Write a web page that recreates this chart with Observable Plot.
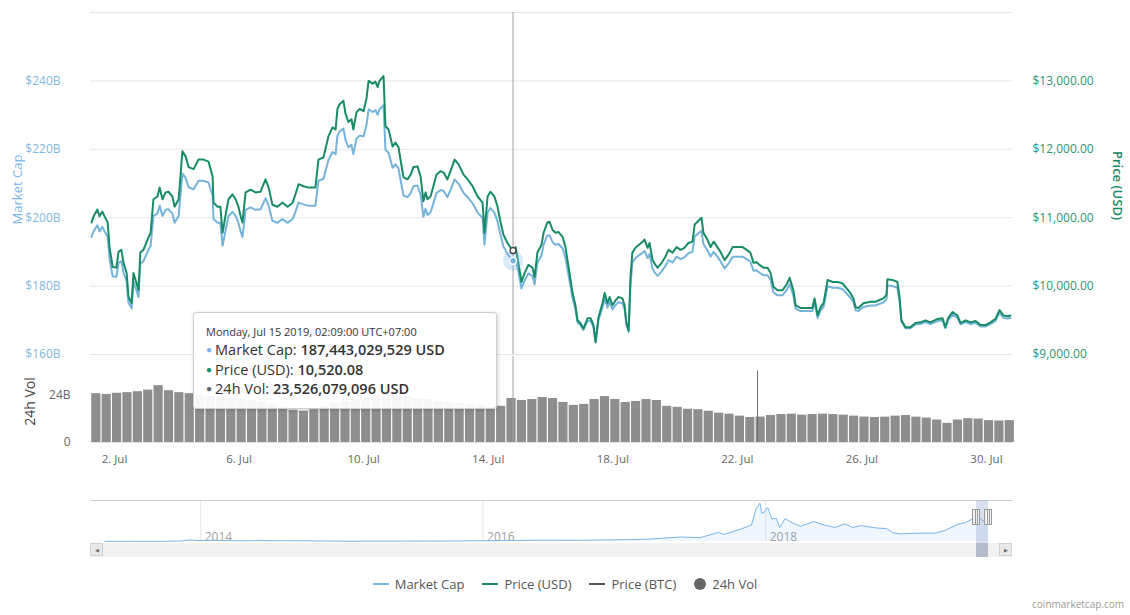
<!DOCTYPE html>
<html>
<head>
<meta charset="utf-8">
<script src="https://cdn.jsdelivr.net/npm/d3@7"></script>
<script src="https://cdn.jsdelivr.net/npm/@observablehq/plot@0.6"></script>
<style>
  body { margin: 0; background: #fff; font-family: "Open Sans", sans-serif; }
  #wrap { position: relative; width: 1130px; height: 615px; overflow: hidden; background: #fff; }
  .layer { position: absolute; left: 0; }
  .layer svg { display: block; background: transparent; }
  #tooltip { position: absolute; left: 193px; top: 312px; width: 290px; height: 81px; padding: 7px 0 7px 12px;
    background: rgba(255,255,255,0.92); border: 1px solid #cfcfcf; border-radius: 3px;
    box-shadow: 1px 1px 4px rgba(0,0,0,0.18); color: #333; z-index: 10; }
  #tooltip .d { font-size: 11px; line-height: 16px; margin-top: 4px; color: #333; }
  #tooltip .r { font-size: 14.5px; line-height: 18.5px; white-space: nowrap; }
  #tooltip .r b { font-weight: 600; }
  #tooltip .bul { font-size: 10px; vertical-align: 2px; margin-right: 3px; }
  #legend { position: absolute; left: 0; top: 575px; width: 1130px; display: flex; justify-content: center;
    align-items: center; font-size: 13px; color: #555; gap: 18px; }
  #legend .it { display: flex; align-items: center; gap: 6px; }
  #legend .sw { width: 16px; height: 2px; }
  #legend .ci { width: 12px; height: 12px; border-radius: 50%; }
  #credit { position: absolute; right: 6px; top: 597px; font-size: 10px; color: #9a9a9a; }
  .scroll { position: absolute; background: #f2f2f2; }
  .btn { position: absolute; width: 13px; height: 13px; background: #e9e9e9; border: 1px solid #d0d0d0;
    font-size: 5px; line-height: 13px; text-align: center; color: #666; box-sizing: border-box; }
  .handle { position: absolute; width: 8px; height: 16px; box-sizing: border-box; border: 1px solid #999;
    background: linear-gradient(to right, transparent 2px, #999 2px, #999 3px, transparent 3px, transparent 4px, #999 4px, #999 5px, transparent 5px), #f2f2f2; z-index: 6; }
</style>
</head>
<body>
<div id="wrap"></div>
<script>
// ---------------- DATA ----------------
// Main series: fractional day of July 2019 (UTC), price in USD, market cap in billions USD
const day = [
  1.26,1.33,1.45,1.52,1.61,1.68,1.78,1.84,1.94,2.06,
  2.13,2.22,2.29,2.39,2.45,2.55,2.61,2.71,2.77,2.83,
  2.93,3.06,3.16,3.25,3.38,3.45,3.54,3.64,3.73,3.86,
  3.93,4.06,4.18,4.28,4.38,4.54,4.70,4.86,5.02,5.15,
  5.18,5.31,5.40,5.47,5.56,5.66,5.79,5.89,5.98,6.05,
  6.11,6.21,6.37,6.53,6.69,6.85,6.95,7.07,7.23,7.39,
  7.56,7.72,7.81,7.91,8.07,8.23,8.45,8.55,8.71,8.87,
  9.00,9.10,9.16,9.23,9.35,9.42,9.51,9.61,9.67,9.77,
  9.87,10.00,10.09,10.16,10.29,10.38,10.45,10.51,10.64,10.70,
  10.80,10.93,11.02,11.12,11.22,11.28,11.41,11.51,11.60,11.73,
  11.83,11.92,11.99,12.05,12.15,12.24,12.34,12.47,12.57,12.69,
  12.79,12.92,13.05,13.21,13.34,13.50,13.66,13.82,13.88,13.98,
  14.07,14.20,14.30,14.40,14.49,14.62,14.78,14.88,14.97,15.07,
  15.17,15.29,15.42,15.49,15.58,15.71,15.78,15.90,15.97,16.07,
  16.16,16.26,16.39,16.48,16.58,16.71,16.80,16.87,16.96,17.06,
  17.19,17.29,17.38,17.45,17.54,17.67,17.74,17.83,17.90,17.99,
  18.09,18.18,18.31,18.38,18.44,18.51,18.57,18.63,18.73,18.83,
  18.96,19.02,19.12,19.18,19.28,19.37,19.44,19.57,19.69,19.79,
  19.92,20.05,20.18,20.30,20.43,20.56,20.63,20.72,20.85,20.91,
  21.04,21.14,21.24,21.36,21.46,21.59,21.72,21.85,22.01,22.17,
  22.30,22.42,22.52,22.62,22.71,22.84,22.97,23.07,23.16,23.29,
  23.45,23.58,23.68,23.80,23.87,24.03,24.25,24.41,24.48,24.58,
  24.67,24.77,24.90,25.06,25.22,25.38,25.47,25.63,25.73,25.80,
  25.89,26.05,26.28,26.44,26.53,26.69,26.79,26.82,26.98,27.14,
  27.21,27.27,27.40,27.56,27.72,27.88,28.04,28.20,28.43,28.59,
  28.68,28.78,28.91,29.07,29.17,29.33,29.49,29.65,29.81,29.97,
  30.13,30.29,30.42,30.55,30.68,30.77
];
const price = [
  10930,11020,11120,11020,11090,11020,10930,10570,10280,10270,
  10500,10530,10340,10190,9840,9750,10190,10040,9940,10490,
  10530,10680,10780,11270,11310,11440,11270,11370,11380,11310,
  11160,11270,11970,11900,11740,11710,11850,11850,11820,11600,
  11220,11160,11160,10780,11020,11270,11340,11270,11160,11020,
  10930,11370,11410,11370,11380,11560,11440,11190,11160,11220,
  11160,11220,11340,11490,11460,11440,11440,11850,11880,12190,
  12320,12290,12590,12660,12710,12520,12400,12440,12290,12540,
  12590,12560,12740,13000,12960,12990,12910,13000,13070,12340,
  12290,12040,12100,12030,11750,11590,11560,11630,11740,11750,
  11600,11240,11370,11270,11310,11460,11630,11680,11660,11560,
  11680,11850,11780,11630,11560,11460,11310,11220,10780,11310,
  11380,11310,11160,10930,10750,10630,10520,10570,10340,10060,
  10190,10310,10270,10130,10490,10600,10780,10930,10940,10820,
  10780,10790,10720,10570,10280,9900,9720,9500,9460,9380,
  9530,9530,9430,9180,9540,9750,9900,9750,9840,9720,
  9790,9840,9820,9720,9460,9350,10130,10490,10560,10600,
  10650,10680,10560,10630,10380,10310,10270,10340,10430,10530,
  10490,10570,10530,10560,10630,10650,10900,10940,11000,10780,
  10680,10570,10650,10570,10500,10380,10460,10570,10570,10570,
  10530,10490,10340,10350,10310,10270,10270,10190,9990,9940,
  9940,10020,10120,9940,9720,9680,9680,9680,9820,9570,
  9690,9750,10090,10060,10060,10040,9990,9900,9820,9690,
  9680,9750,9770,9770,9790,9820,9870,10100,10090,10060,
  9840,9500,9400,9400,9460,9470,9500,9470,9520,9530,
  9400,9540,9620,9570,9460,9500,9470,9490,9430,9430,
  9470,9520,9650,9570,9560,9570
];
const mcap = [
  194.4,196.0,197.8,196.0,197.3,196.0,194.4,188.0,182.9,182.7,
  186.8,187.3,183.9,181.3,175.1,173.5,181.3,178.6,176.8,186.6,
  187.3,190.0,191.8,200.5,201.2,203.5,200.5,202.3,202.5,201.2,
  198.5,200.5,212.9,211.7,208.9,208.3,210.8,210.8,210.3,206.4,
  199.6,198.5,198.5,191.8,196.0,200.5,201.7,200.5,198.5,196.0,
  194.4,202.3,203.0,202.3,202.5,205.7,203.5,199.1,198.5,199.6,
  198.5,199.6,201.7,204.4,203.9,203.5,203.5,210.8,211.4,216.9,
  219.2,218.6,224.0,225.2,226.1,222.7,220.6,221.3,218.6,223.1,
  224.0,223.8,227.0,231.7,230.9,231.5,230.1,231.7,232.9,219.9,
  219.0,214.6,215.6,214.4,209.4,206.5,206.0,207.2,209.2,209.4,
  206.7,200.3,202.6,200.8,201.5,204.2,207.2,208.1,207.8,206.0,
  208.1,211.2,209.9,207.2,206.0,204.2,201.5,199.9,192.1,201.5,
  202.8,201.5,198.9,194.8,191.6,189.4,187.4,188.3,184.2,179.3,
  181.6,183.7,183.0,180.5,186.9,188.9,192.1,194.8,194.9,192.8,
  192.1,192.3,191.0,188.4,183.2,176.4,173.2,169.3,168.6,167.2,
  169.8,169.8,168.0,163.6,170.0,173.7,176.4,173.7,175.3,173.2,
  174.5,175.3,175.0,173.2,168.6,166.6,180.5,186.9,188.2,188.9,
  189.8,190.3,188.2,189.4,185.0,183.7,183.0,184.3,185.9,187.6,
  186.9,188.6,187.9,188.4,189.6,190.0,194.5,195.2,196.2,192.3,
  190.5,188.6,190.0,188.6,187.3,185.2,186.6,188.6,188.6,188.6,
  187.9,187.1,184.5,184.6,183.9,183.2,183.2,181.8,178.2,177.3,
  177.3,178.8,180.5,177.3,173.4,172.7,172.7,172.7,175.2,170.7,
  172.9,173.9,180.0,179.5,179.5,179.1,178.2,176.6,175.2,172.9,
  172.7,173.9,174.3,174.3,174.7,175.2,176.1,180.2,180.0,179.5,
  175.5,169.5,167.7,167.7,168.8,168.9,169.5,168.9,169.8,170.0,
  167.7,170.2,171.6,170.7,168.8,169.5,168.9,169.3,168.2,168.2,
  168.9,169.8,172.2,170.7,170.5,170.7
];
// 24h volume (billions USD), one bar per 8 hours starting Jul 1 06:00 UTC
const volume = [
  25.0,24.6,25.2,25.5,26.0,26.8,29.1,26.5,25.5,25.0,
  24.0,23.5,23.0,22.5,22.0,21.5,20.5,19.5,18.0,16.5,
  16.0,16.8,18.5,20.0,21.0,22.0,23.0,24.0,24.5,24.0,
  23.5,22.5,22.0,21.0,20.5,20.0,19.5,19.0,18.0,18.5,
  22.5,21.5,22.0,23.0,22.5,20.5,19.0,19.5,22.0,23.5,
  22.0,20.5,21.0,22.0,21.5,18.5,18.0,17.0,16.8,16.0,
  15.0,14.5,13.5,12.8,13.0,13.8,14.3,14.5,14.0,14.3,
  14.5,14.3,14.0,13.5,13.0,12.8,13.0,13.5,13.8,13.0,
  12.5,11.5,9.8,11.5,12.2,12.0,11.2,11.0,11.2
];
const volSpikeDay = [22.65];
const volSpikeValue = [36.5];
// hovered point
const hoverTime = "2019-07-14T19:09:00Z";
const hoverMcapUSD = 187443029529;
const hoverPriceUSD = 10520.08;
const hoverVolUSD = 23526079096;
// axis ticks
const capTicks = [160, 180, 200, 220, 240];
const capGrid = [160, 180, 200, 220, 240, 260];
const volTicks = [0, 24];
const xTickDays = [2, 6, 10, 14, 18, 22, 26, 30];
// navigator: market cap history (billions USD)
const navDate = ["2013-04-28","2013-07-01","2013-10-01","2013-11-15","2013-12-04","2013-12-20","2014-02-01","2014-04-15","2014-06-05","2014-09-15",
  "2015-01-14","2015-06-01","2015-10-01","2016-01-01","2016-06-15","2016-09-01","2017-01-01","2017-03-01","2017-05-25","2017-07-15",
  "2017-09-01","2017-09-15","2017-11-01","2017-11-25","2017-12-07","2017-12-17","2017-12-22","2017-12-28","2018-01-06","2018-01-17",
  "2018-01-28","2018-02-06","2018-02-20","2018-03-10","2018-04-01","2018-05-05","2018-06-01","2018-06-29","2018-07-25","2018-08-14",
  "2018-09-04","2018-10-15","2018-11-10","2018-11-25","2018-12-15","2019-01-15","2019-03-15","2019-04-10","2019-05-15","2019-06-01",
  "2019-06-26","2019-07-10","2019-07-17","2019-07-31"];
const navMcap = [1.5,1.0,1.6,5,13.5,8,10,5.5,8,6,
  2.4,3.2,3.5,6.5,11.5,9.5,15.5,20,38,33,
  77,60,110,140,280,326,240,250,290,190,
  200,120,195,160,130,170,140,120,150,120,
  135,115,110,75,65,70,72,95,150,160,
  205,200,175,172];
const navYears = ["2014-01-01", "2016-01-01", "2018-01-01"];
const navSelection = ["2019-07-01", "2019-07-31"];

// ---------------- COLORS ----------------
const C_MCAP = "#74b3da", C_PRICE = "#178a67", C_VOL = "#8e8e8e";

// ---------------- BUILD ----------------
const J1 = Date.UTC(2019, 6, 1);
const toDate = d => new Date(J1 + (d - 1) * 864e5);
const hourDate = h => new Date(J1 + h * 3600e3);
const priceToCap = p => 160 + (p - 9000) / 50;
const capToPrice = c => 9000 + (c - 160) * 50;

const rows = day.map((d, i) => ({date: toDate(d), price: price[i], mcap: mcap[i]}));
const volRows = volume.map((v, i) => ({start: hourDate(6 + 8 * i), end: hourDate(14 + 8 * i), vol: v}));
const spikeRows = volSpikeDay.map((d, i) => ({date: toDate(d), vol: volSpikeValue[i]}));
const hover = {date: new Date(hoverTime), mcap: hoverMcapUSD / 1e9, price: hoverPriceUSD};
const navRows = navDate.map((d, i) => ({date: new Date(d), mcap: navMcap[i]}));
const xDomain = [new Date("2019-07-01T05:30:00Z"), new Date("2019-07-30T20:05:00Z")];
const FONT = "'Open Sans', sans-serif";

const wrap = document.getElementById("wrap");
function addLayer(node, top) {
  const d = document.createElement("div");
  d.className = "layer"; d.style.top = top + "px";
  d.appendChild(node); wrap.appendChild(d); return d;
}

const main = Plot.plot({
  width: 1130, height: 360, marginLeft: 90, marginRight: 118, marginTop: 12, marginBottom: 6,
  style: {fontFamily: FONT, background: "transparent", overflow: "visible"},
  x: {type: "utc", domain: xDomain, axis: null},
  y: {domain: [160, 260], axis: null},
  marks: [
    Plot.ruleY(capGrid, {stroke: "#e6e6e6"}),
    Plot.axisY(capTicks, {anchor: "left", tickSize: 0, tickPadding: 30, label: null,
      tickFormat: d => `$${d}B`, color: "#7fbadd", fontSize: 12}),
    Plot.axisY(capTicks, {anchor: "right", tickSize: 0, tickPadding: 20, label: null, textAnchor: "start",
      tickFormat: d => "$" + d3.format(",.2f")(capToPrice(d)), color: "#2f9575", fontSize: 12}),
    Plot.text(["Market Cap"], {frameAnchor: "left", textAnchor: "middle", lineAnchor: "middle", dx: -73, dy: 6, rotate: -90, fill: "#7cb5ec", fontSize: 13}),
    Plot.text(["Price (USD)"], {frameAnchor: "right", textAnchor: "middle", lineAnchor: "middle", dx: 105, dy: 2, rotate: 90, fill: C_PRICE, fontSize: 13, fontWeight: 600}),
    Plot.ruleX([hover], {x: "date", stroke: "#a0a0a0", strokeWidth: 1}),
    Plot.line(rows, {x: "date", y: "mcap", stroke: C_MCAP, strokeWidth: 2}),
    Plot.line(rows, {x: "date", y: d => priceToCap(d.price), stroke: C_PRICE, strokeWidth: 2}),
    Plot.dot([hover], {x: "date", y: "mcap", r: 10, fill: "#7cb5ec", fillOpacity: 0.3}),
    Plot.dot([hover], {x: "date", y: "mcap", r: 3.5, fill: C_MCAP, stroke: "white"}),
    Plot.dot([hover], {x: "date", y: d => priceToCap(d.price), r: 3, fill: "white", stroke: "#333", strokeWidth: 1.2})
  ]
});
addLayer(main, 0);

const vol = Plot.plot({
  width: 1130, height: 115, marginLeft: 90, marginRight: 118, marginTop: 1, marginBottom: 28,
  style: {fontFamily: FONT, background: "transparent", overflow: "visible"},
  x: {type: "utc", domain: xDomain, axis: null},
  y: {domain: [0, 44], axis: null},
  marks: [
    Plot.rectY(volRows, {x1: "start", x2: "end", y: "vol", fill: C_VOL, insetLeft: 0.6, insetRight: 0.6}),
    Plot.ruleX(spikeRows, {x: "date", y1: 0, y2: "vol", stroke: "#6a6a6a", strokeWidth: 1}),
    Plot.ruleY([0], {stroke: "#dfe3ea"}),
    Plot.ruleX([hover], {x: "date", stroke: "#a0a0a0", strokeWidth: 1}),
    Plot.axisX(xTickDays.map(toDate), {tickSize: 0, tickPadding: 12, label: null,
      tickFormat: d => `${d.getUTCDate()}. Jul`, color: "#666", fontSize: 11.5}),
    Plot.axisY(volTicks, {anchor: "left", tickSize: 0, tickPadding: 20, label: null,
      tickFormat: d => d === 0 ? "0" : `${d}B`, color: "#666", fontSize: 12}),
    Plot.text(["24h Vol"], {frameAnchor: "left", textAnchor: "middle", lineAnchor: "middle", dx: -60, dy: 2, rotate: -90, fill: "#444", fontSize: 14})
  ]
});
addLayer(vol, 355);

// navigator scrollbar background (behind navigator svg)
const sb = document.createElement("div");
sb.className = "scroll";
Object.assign(sb.style, {left: "90px", top: "543px", width: "922px", height: "14px"});
wrap.appendChild(sb);

const nav = Plot.plot({
  width: 1130, height: 63, marginLeft: 90, marginRight: 118, marginTop: 5, marginBottom: 17,
  style: {fontFamily: FONT, background: "transparent", overflow: "visible"},
  x: {type: "utc", domain: [new Date("2013-03-22"), new Date("2019-10-01")], axis: null},
  y: {domain: [0, 350], axis: null},
  marks: [
    Plot.ruleX(navYears.map(d => new Date(d)), {stroke: "#e6e6e6"}),
    Plot.text(navYears.map(d => new Date(d)), {x: d => d, text: d => String(d.getUTCFullYear()),
      frameAnchor: "bottom", textAnchor: "start", dx: 4, dy: -1, fill: "#a0a0a0", fontSize: 12}),
    Plot.areaY(navRows, {x: "date", y: "mcap", fill: "#7cb5ec", fillOpacity: 0.12}),
    Plot.line(navRows, {x: "date", y: "mcap", stroke: "#7cb5ec", strokeWidth: 1}),
    Plot.ruleY([350], {stroke: "#cccccc"})
  ]
});
addLayer(nav, 495);

// selection, scrollbar thumb, buttons and handles positioned with the navigator's x scale
const nx = nav.scale("x");
const s0 = nx.apply(new Date(navSelection[0])), s1 = nx.apply(new Date(navSelection[1]));
const thumb = document.createElement("div");
Object.assign(thumb.style, {position: "absolute", left: s0 + "px", top: "543px", width: (s1 - s0) + "px", height: "14px", background: "#cfcfcf", zIndex: 4});
wrap.appendChild(thumb);
const shade = document.createElement("div");
Object.assign(shade.style, {position: "absolute", left: s0 + "px", top: "500px", width: (s1 - s0) + "px", height: "57px", background: "rgba(102,133,194,0.25)", zIndex: 5});
wrap.appendChild(shade);
[s0, s1].forEach(x => {
  const h = document.createElement("div");
  h.className = "handle"; h.style.left = (x - 4) + "px"; h.style.top = "509px";
  wrap.appendChild(h);
});
[[90, "&#9664;"], [999, "&#9654;"]].forEach(([x, t]) => {
  const b = document.createElement("div");
  b.className = "btn"; b.style.left = x + "px"; b.style.top = "543px"; b.innerHTML = t;
  wrap.appendChild(b);
});

// tooltip
const tt = document.createElement("div");
tt.id = "tooltip";
const localTime = new Date(hover.date.getTime() + 7 * 3600e3);
tt.innerHTML =
  `<div class="d">${d3.utcFormat("%A, %b %d %Y, %H:%M:%S")(localTime)} UTC+07:00</div>` +
  `<div class="r"><span class="bul" style="color:#7cb5ec">&#9679;</span>Market Cap: <b>${d3.format(",")(hoverMcapUSD)} USD</b></div>` +
  `<div class="r"><span class="bul" style="color:${C_PRICE}">&#9679;</span>Price (USD): <b>${d3.format(",.2f")(hoverPriceUSD)}</b></div>` +
  `<div class="r"><span class="bul" style="color:#666">&#9679;</span>24h Vol: <b>${d3.format(",")(hoverVolUSD)} USD</b></div>`;
wrap.appendChild(tt);

// legend
const legend = document.createElement("div");
legend.id = "legend";
const legendItems = [
  {label: "Market Cap", color: "#7cb5ec", kind: "line"},
  {label: "Price (USD)", color: C_PRICE, kind: "line"},
  {label: "Price (BTC)", color: "#555", kind: "line"},
  {label: "24h Vol", color: "#666", kind: "circle"}
];
legend.innerHTML = legendItems.map(it =>
  `<div class="it"><div class="${it.kind === "line" ? "sw" : "ci"}" style="background:${it.color}"></div><span>${it.label}</span></div>`).join("");
wrap.appendChild(legend);

const credit = document.createElement("div");
credit.id = "credit"; credit.textContent = "coinmarketcap.com";
wrap.appendChild(credit);
</script>
</body>
</html>
